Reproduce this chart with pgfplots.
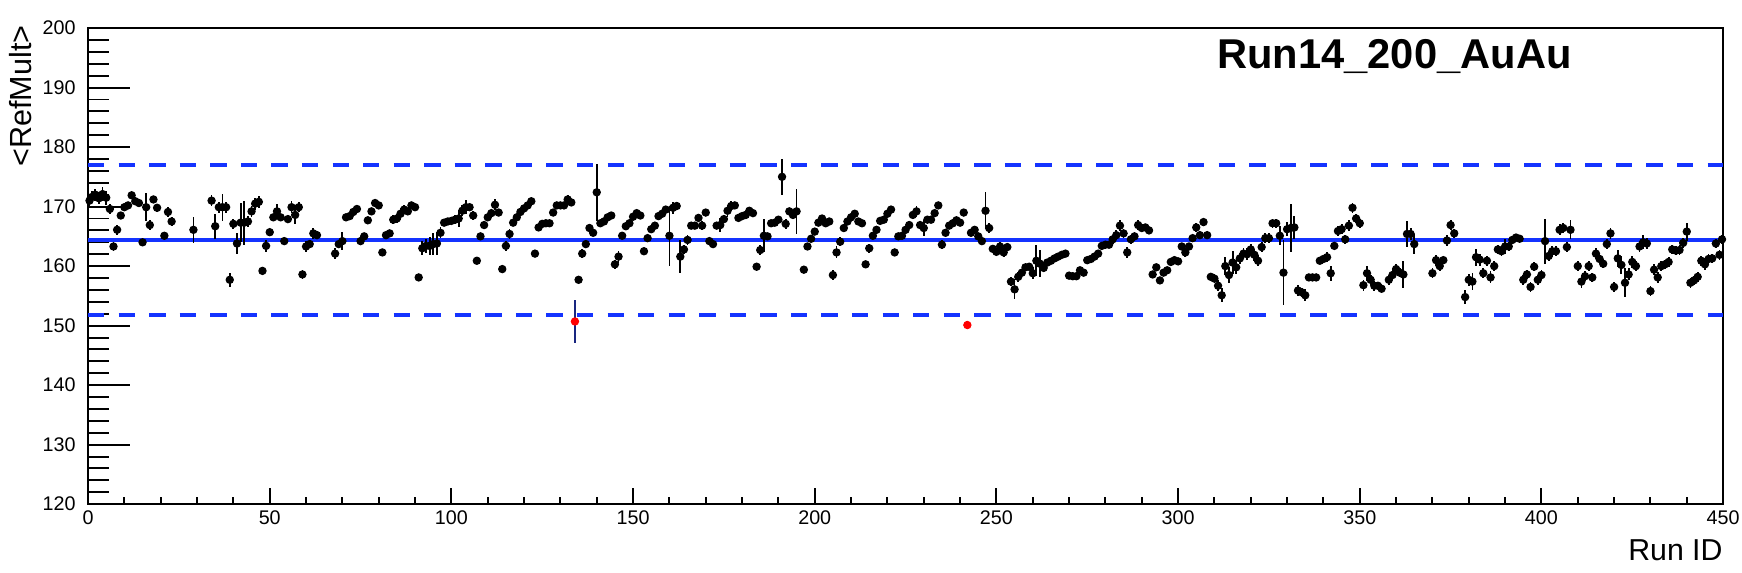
\documentclass[border=0pt]{standalone}
\usepackage{pgfplots}
\pgfplotsset{compat=1.18}
\usepackage{fontspec}
\setmainfont{Liberation Sans}
\definecolor{rootblue}{rgb}{0.08,0.2,1}
\definecolor{navybar}{rgb}{0.1,0.15,0.5}
\begin{document}
\begin{tikzpicture}
\begin{axis}[
 scale only axis, width=588.6pt, height=171.4pt,
 xmin=0, xmax=450, ymin=120, ymax=200,
 xtick={0,50,...,450}, ytick={120,130,...,200},
 minor x tick num=4, minor y tick num=4,
 tick align=inside, tick pos=left,
 xtick style={line width=0.7pt, black, /pgfplots/major tick length=5.8pt, /pgfplots/minor tick length=2.5pt},
 ytick style={line width=0.7pt, black, /pgfplots/major tick length=15.1pt, /pgfplots/minor tick length=7.6pt},
 axis line style={line width=0.7pt},
 /pgf/number format/assume math mode=true,
 ticklabel style={font=\fontsize{7.1}{8.5}\selectfont},
 yticklabel style={inner sep=0pt, anchor=east, xshift=-4.3pt},
 xticklabel style={inner sep=0pt, anchor=north, yshift=-2.2pt},
 clip=false,
]
\coordinate (bl) at (rel axis cs:0,0);
\coordinate (tr) at (rel axis cs:1,1);
\addplot[rootblue, line width=1.3pt, dash pattern=on 5.9pt off 5.1pt] coordinates {(0,177.0) (450,177.0)};
\addplot[rootblue, line width=1.3pt, dash pattern=on 5.9pt off 5.1pt] coordinates {(0,151.8) (450,151.8)};
\addplot[rootblue, line width=1.4pt] coordinates {(0,164.4) (450,164.4)};
\addplot[only marks, mark=*, mark size=1.3pt, black, mark options={draw=black, fill=black},
 error bars/.cd, y dir=both, y explicit, error mark=none, error bar style={line width=0.65pt, black}]
 table[x=x, y=y, y error=e] {
x y e
0.4 171.0 1.0
1 171.6 1.0
2 172.0 1.0
3 171.4 1.0
4 172.1 1.2
5 171.5 1.2
6 169.6 0.9
7 163.3 0.8
8 166.1 0.8
9 168.5 0.6
10 169.9 0.6
11 170.2 0.6
12 171.9 0.6
13 170.9 0.6
14 170.6 0.6
15 164.0 0.6
16 169.9 2.4
17 166.9 0.8
18 171.2 0.6
19 169.8 0.7
21 165.1 0.6
22 169.1 0.9
23 167.5 0.8
29 166.1 2.2
34 171.0 0.9
35 166.7 2.1
36 169.9 0.9
37 169.9 2.3
38 169.9 0.9
39 157.7 1.2
40 167.1 0.9
41 163.8 1.7
42 167.3 3.3
43 167.3 3.7
44 167.5 1.0
45 169.2 0.9
46 170.5 1.0
47 170.8 1.0
48 159.2 0.7
49 163.4 1.0
50 165.7 0.6
51 168.2 0.6
52 169.2 1.2
53 168.2 0.6
54 164.2 0.5
55 167.9 0.6
56 169.9 1.0
57 168.6 1.6
58 169.9 0.8
59 158.6 0.8
60 163.3 0.9
61 163.7 0.7
62 165.5 0.9
63 165.2 0.7
68 162.1 0.9
69 163.7 0.7
70 164.2 1.5
71 168.2 0.6
72 168.4 0.6
73 169.1 0.6
74 169.6 0.7
75 164.2 0.6
76 165.0 0.6
77 167.7 0.6
78 169.2 0.6
79 170.6 0.6
80 170.2 0.6
81 162.3 0.6
82 165.2 0.6
83 165.5 0.6
84 167.8 0.8
85 168.0 0.8
86 168.8 1.0
87 169.5 0.8
88 169.2 0.6
89 170.2 0.6
90 169.9 0.6
91 158.1 0.6
92 163.0 1.2
93 163.4 1.2
94 163.4 1.5
95 163.7 1.8
96 163.8 2.0
97 165.6 0.9
98 167.3 0.6
99 167.5 0.6
100 167.6 0.6
101 167.8 0.8
102 168.0 1.5
103 169.3 0.9
104 169.9 1.2
105 169.9 0.6
106 168.5 0.8
107 160.9 0.6
108 165.0 0.6
109 166.9 0.6
110 168.2 0.6
111 168.9 0.6
112 170.3 0.9
113 169.0 0.6
114 159.5 0.6
115 163.4 0.8
116 165.4 0.8
117 167.3 0.6
118 168.2 0.6
119 169.1 0.6
120 169.7 0.6
121 170.2 0.6
122 170.9 0.6
123 162.1 0.6
124 166.5 0.6
125 167.1 0.6
126 167.2 0.6
127 167.2 0.6
128 169.0 0.6
129 170.2 0.6
130 170.2 0.6
131 170.2 0.6
132 171.2 0.8
133 170.7 0.6
135 157.7 0.7
136 162.1 0.8
137 163.7 0.6
138 166.4 0.6
139 165.6 0.6
140 172.4 4.8
141 167.2 0.6
142 167.5 0.6
143 168.2 0.6
144 168.5 0.6
145 160.3 0.8
146 161.6 1.0
147 165.1 0.6
148 166.7 0.6
149 167.2 0.6
150 168.3 0.6
151 168.9 0.6
152 168.5 0.6
153 162.5 0.6
154 164.7 0.6
155 166.2 0.6
156 166.8 0.6
157 168.4 0.6
158 168.8 0.6
159 169.5 0.6
160 165.1 5.0
161 169.8 1.0
162 170.1 0.6
163 161.6 2.8
164 162.8 0.8
165 164.4 0.8
166 166.8 0.6
167 166.8 0.6
168 168.1 0.6
169 166.8 0.8
170 169.0 0.6
171 164.2 0.6
172 163.7 0.6
173 166.8 0.6
174 166.9 1.2
175 167.9 0.6
176 169.3 1.0
177 170.1 0.8
178 170.2 0.6
179 168.1 0.6
180 168.4 0.6
181 168.6 0.6
182 169.3 0.6
183 168.9 0.6
184 159.9 0.6
185 162.7 0.9
186 165.1 2.8
187 165.0 0.6
188 167.2 0.6
189 167.3 0.6
190 167.8 0.6
191 175.0 3.0
192 167.1 0.8
193 169.2 0.6
194 168.6 0.6
195 169.2 3.8
197 159.4 0.6
198 163.3 0.6
199 164.6 0.6
200 165.8 0.6
201 167.3 0.6
202 168.0 0.6
203 167.2 0.6
204 167.5 0.6
205 158.5 0.8
206 162.3 1.0
207 164.1 0.8
208 166.4 0.6
209 167.5 0.6
210 168.2 0.6
211 168.8 0.6
212 167.5 0.6
213 167.2 0.6
214 160.3 0.6
215 163.0 0.8
216 165.1 0.6
217 166.1 0.6
218 167.6 0.6
219 167.8 0.6
220 168.8 0.6
221 169.5 0.6
222 162.3 0.6
223 165.0 0.6
224 165.1 0.6
225 166.1 0.6
226 166.9 0.6
227 168.6 0.6
228 169.2 0.9
229 166.9 0.6
230 166.4 1.3
231 167.8 0.6
232 167.8 0.6
233 168.9 0.6
234 170.2 0.6
235 163.6 0.8
236 165.6 0.6
237 166.8 0.6
238 167.2 0.6
239 167.7 0.6
240 167.3 0.6
241 169.0 0.6
243 165.6 0.6
244 166.1 0.6
245 165.0 0.6
246 164.2 0.6
247 169.3 3.1
248 166.4 0.8
249 162.9 0.6
250 162.4 0.6
251 163.3 0.8
252 162.3 0.8
253 163.2 0.6
254 157.4 0.8
255 156.1 1.7
256 158.2 0.8
257 158.9 0.6
258 159.8 0.6
259 159.9 0.6
260 158.8 1.0
261 160.9 2.6
262 160.4 2.3
263 159.7 0.6
264 160.6 0.6
265 160.9 0.6
266 161.3 0.6
267 161.6 0.6
268 161.9 0.6
269 162.1 0.6
270 158.4 0.6
271 158.3 0.6
272 158.3 0.6
273 159.3 0.6
274 158.9 0.6
275 161.0 0.6
276 161.2 0.6
277 161.6 0.6
278 162.1 0.6
279 163.4 0.6
280 163.6 0.6
281 163.6 0.6
282 164.5 0.8
283 165.2 0.8
284 166.8 0.9
285 165.5 0.8
286 162.3 0.9
287 164.5 0.8
288 165.0 0.8
289 166.9 0.9
290 166.4 0.6
291 166.5 0.6
292 166.0 0.6
293 158.6 0.6
294 159.8 0.6
295 157.6 0.6
296 158.9 0.6
297 159.3 0.6
298 160.7 0.6
299 161.0 0.6
300 160.8 0.6
301 163.3 0.6
302 162.3 0.8
303 163.3 0.6
304 164.7 0.6
305 166.5 0.8
306 165.2 0.6
307 167.4 0.6
308 165.2 0.6
309 158.2 0.6
310 157.9 0.8
311 156.7 0.9
312 155.1 1.2
313 160.0 1.5
314 158.5 1.4
315 160.6 2.0
316 159.8 1.2
317 161.3 0.9
318 162.1 0.9
319 162.0 1.0
320 162.8 1.0
321 161.9 1.0
322 160.9 0.9
323 163.2 0.8
324 164.7 0.8
325 164.7 0.8
326 167.2 0.8
327 167.2 0.8
328 165.1 1.6
329 158.9 5.5
330 166.2 1.2
331 166.4 4.0
332 166.5 2.0
333 155.9 0.9
334 155.6 0.8
335 155.1 1.0
336 158.1 0.6
337 158.1 0.6
338 158.1 0.6
339 160.9 0.6
340 161.2 0.6
341 161.5 0.8
342 158.8 1.3
343 163.4 0.6
344 165.9 0.8
345 166.2 0.8
346 164.5 0.8
347 166.8 0.9
348 169.8 0.8
349 168.0 0.8
350 167.2 0.8
351 156.8 0.9
352 158.8 1.3
353 157.7 0.8
354 156.7 0.8
355 156.7 0.6
356 156.2 0.8
358 157.7 0.8
359 158.5 0.8
360 159.5 0.8
361 158.9 0.8
362 158.6 2.3
363 165.4 2.2
364 165.4 1.0
365 163.7 1.7
370 158.8 0.8
371 161.0 0.9
372 160.0 0.9
373 161.0 0.6
374 164.3 0.9
375 166.9 0.8
376 165.5 0.8
379 154.8 1.2
380 157.7 1.0
381 157.4 1.4
382 161.5 1.4
383 161.1 1.0
384 158.8 0.8
385 160.9 0.8
386 158.1 1.0
387 160.0 0.8
388 162.8 0.8
389 162.5 0.8
390 163.3 1.2
391 163.3 0.8
392 164.4 0.6
393 164.8 0.6
394 164.6 0.6
395 157.7 0.8
396 158.6 0.8
397 156.5 0.8
398 159.9 0.8
399 157.7 0.8
400 158.5 0.8
401 164.2 3.8
402 161.7 0.9
403 162.5 0.9
404 162.5 0.8
405 166.1 0.9
406 166.4 0.9
407 163.2 0.8
408 166.1 1.6
410 160.0 0.8
411 157.4 1.0
412 158.3 0.8
413 160.0 0.8
414 158.1 0.8
415 162.1 0.9
416 161.2 0.9
417 160.4 0.8
418 163.7 0.8
419 165.5 0.9
420 156.5 0.9
421 161.3 1.4
422 160.2 1.5
423 157.2 2.4
424 158.6 1.0
425 160.7 1.0
426 160.0 0.9
427 163.3 1.0
428 164.0 1.2
429 163.8 1.0
430 155.8 0.9
431 159.4 0.9
432 158.1 0.9
433 160.0 0.8
434 160.3 0.8
435 160.7 0.8
436 162.8 0.8
437 162.6 0.8
438 162.7 0.8
439 163.9 0.8
440 165.8 1.5
441 157.2 0.8
442 157.6 0.8
443 158.2 0.8
444 160.9 0.8
445 160.3 1.0
446 161.2 0.8
447 161.3 0.8
448 163.8 0.8
449 161.9 0.8
449.7 164.5 0.8
};
\addplot[only marks, mark=*, mark size=1.3pt, red, mark options={draw=red, fill=red},
 error bars/.cd, y dir=both, y explicit, error mark=none, error bar style={line width=0.65pt, navybar}]
 table[x=x, y=y, y error=e] {
x y e
134 150.7 3.6
242 150.1 0.7
};
\node[anchor=base, font=\bfseries\fontsize{15}{18}\selectfont] at (rel axis cs:0.799,0.916) {Run14\_200\_AuAu};
\node[anchor=base east, inner sep=0pt, font=\fontsize{10.9}{13}\selectfont] at ([yshift=-20.2pt]rel axis cs:1,0) {Run ID};
\node[anchor=base east, rotate=90, inner sep=0pt, font=\fontsize{11}{13}\selectfont] at ([xshift=-20.2pt, yshift=1.1pt]rel axis cs:0,1) {\textless RefMult\textgreater};
\end{axis}
\pgfresetboundingbox
\path[use as bounding box] ([xshift=-31.7pt,yshift=-24.5pt]bl) rectangle ([xshift=6.8pt,yshift=10.1pt]tr);
\end{tikzpicture}
\end{document}
